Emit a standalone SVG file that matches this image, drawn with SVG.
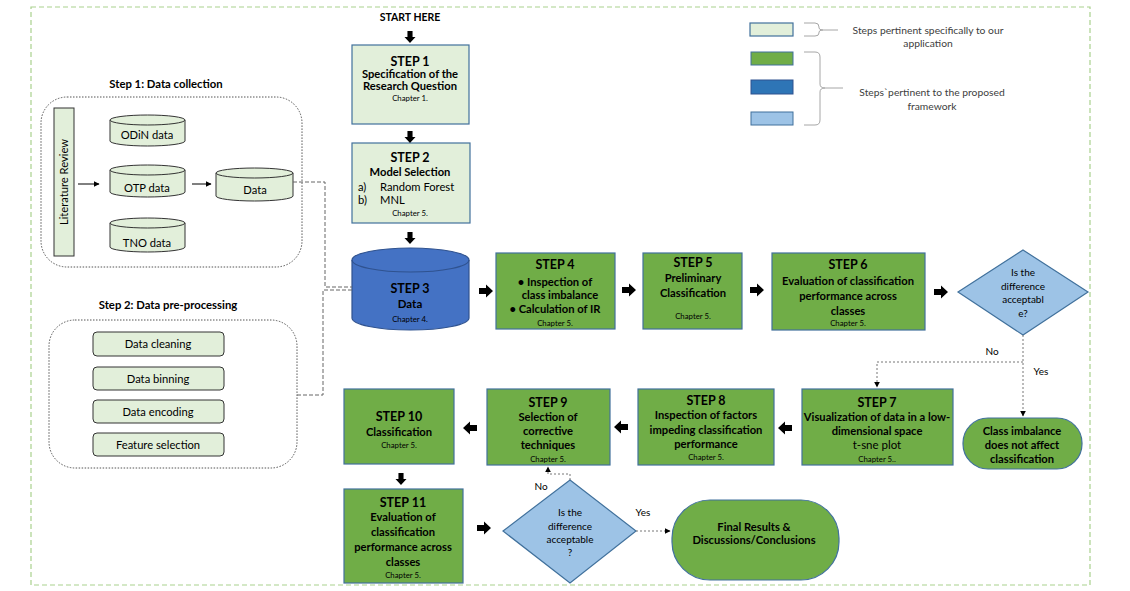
<svg xmlns="http://www.w3.org/2000/svg" width="1130" height="591" viewBox="0 0 1130 591">
<defs>
<style>
text{font-family:Lato,"Liberation Sans",sans-serif;fill:#000;text-anchor:middle}
.b{font-weight:bold}
.st{font-size:12.5px;font-weight:bold}
.bd{font-size:11.2px;font-weight:bold}
.rg{font-size:11.2px}
.ch{font-size:7.8px}
.dm{font-size:10px}
.lg{font-size:10.3px;fill:#404040}
.lt{fill:#E2EFDA;stroke:#41719C;stroke-width:1.2}
.gr{fill:#70AD47;stroke:#41719C;stroke-width:1.2}
.dia{fill:#9DC3E6;stroke:#41719C;stroke-width:1.2}
.cyl{fill:#E2EFDA;stroke:#333;stroke-width:1}
.grp{fill:none;stroke:#555;stroke-width:1;stroke-dasharray:1.5,1.5}
.dash{fill:none;stroke:#666;stroke-width:1;stroke-dasharray:4,2}
.dot{fill:none;stroke:#777;stroke-width:1;stroke-dasharray:2,2}
.thin{fill:none;stroke:#000;stroke-width:1}
.brace{fill:none;stroke:#A6A6A6;stroke-width:1}
</style>
<path id="blk" d="M-7,-3 H0 V-6.5 L7,0 L0,6.5 V3 H-7 Z" fill="#000"/>
<marker id="ah" viewBox="0 0 10 10" refX="9" refY="5" markerWidth="6" markerHeight="6" orient="auto-start-reverse">
<path d="M0,0 L10,5 L0,10 Z" fill="#000"/>
</marker>
</defs>
<rect width="1130" height="591" fill="#fff"/>
<rect x="31" y="7" width="1059" height="578" fill="none" stroke="#A9D18E" stroke-width="1.2" stroke-dasharray="5,3"/>

<!-- legend -->
<g id="legend">
<rect x="750" y="23" width="43" height="13" class="lt"/>
<rect x="751" y="52" width="42" height="13" fill="#70AD47" stroke="#41719C"/>
<rect x="751" y="80" width="42" height="14" fill="#2E75B6" stroke="#2F528F"/>
<rect x="751" y="112" width="42" height="13" fill="#9DC3E6" stroke="#41719C"/>
<path class="brace" d="M804,23 H815 Q819,23 819,27 V28 Q819,30 823,30 H838 M823,30 Q819,30 819,32 V33 Q819,36 815,36 H804"/>
<path class="brace" d="M804,52 H815 Q820,52 820,57 V84 Q820,88 825,88 H843 M825,88 Q820,88 820,92 V120 Q820,125 815,125 H804"/>
<text class="lg" x="928" y="33.5">Steps pertinent specifically to our</text>
<text class="lg" x="928" y="46.5">application</text>
<text class="lg" x="932" y="95.5">Steps`pertinent to the proposed</text>
<text class="lg" x="932" y="109.5">framework</text>
</g>

<!-- Step 1 group -->
<g id="data-collection">
<text class="b" style="font-size:11.3px" x="166" y="88">Step 1: Data collection</text>
<rect x="41" y="97" width="261" height="170" rx="26" class="grp"/>
</g>
<g id="literature-review">
<rect x="54" y="108" width="20" height="148" class="lt" style="stroke:#333;stroke-width:1"/>
<text class="rg" transform="translate(68,182) rotate(-90)">Literature Review</text>
</g>
<g id="odin">
<path class="cyl" d="M110,120 V141 A37.5,5 0 0 0 185,141 V120 A37.5,5 0 0 0 110,120 Z"/>
<path class="cyl" d="M110,120 A37.5,5 0 0 0 185,120" fill="none"/>
<text class="rg" x="147" y="138.5">ODiN data</text>
</g>
<g id="otp">
<path class="cyl" d="M110,170 V192 A37.5,5 0 0 0 185,192 V170 A37.5,5 0 0 0 110,170 Z"/>
<path class="cyl" d="M110,170 A37.5,5 0 0 0 185,170" fill="none"/>
<text class="rg" x="147" y="191.5">OTP data</text>
</g>
<g id="tno">
<path class="cyl" d="M110,223 V247 A37.5,5 0 0 0 185,247 V223 A37.5,5 0 0 0 110,223 Z"/>
<path class="cyl" d="M110,223 A37.5,5 0 0 0 185,223" fill="none"/>
<text class="rg" x="147" y="246.5">TNO data</text>
</g>
<g id="data">
<path class="cyl" d="M216,173 V196 A38.5,5 0 0 0 293,196 V173 A38.5,5 0 0 0 216,173 Z"/>
<path class="cyl" d="M216,173 A38.5,5 0 0 0 293,173" fill="none"/>
<text class="rg" x="255" y="193.5">Data</text>
</g>

<!-- Step 2 group -->
<g id="pre-processing">
<text class="b" style="font-size:11.3px" x="168" y="309">Step 2: Data pre-processing</text>
<rect x="49" y="320" width="248" height="148" rx="26" class="grp"/>
</g>
<g id="cleaning"><rect x="93" y="332" width="131" height="24" rx="4" class="cyl"/><text class="rg" x="158" y="348">Data cleaning</text></g>
<g id="binning"><rect x="93" y="367" width="131" height="23" rx="4" class="cyl"/><text class="rg" x="158" y="382.5">Data binning</text></g>
<g id="encoding"><rect x="93" y="400" width="131" height="23" rx="4" class="cyl"/><text class="rg" x="158" y="415.5">Data encoding</text></g>
<g id="feature"><rect x="93" y="433" width="131" height="23" rx="4" class="cyl"/><text class="rg" x="158" y="448.5">Feature selection</text></g>

<text class="b" style="font-size:10.5px" x="410" y="21">START HERE</text>

<!-- main steps -->
<g id="step1">
<rect x="352" y="45" width="117" height="79" class="lt"/>
<text class="st" x="410" y="66">STEP 1</text>
<text class="bd" x="410" y="78">Specification of the</text>
<text class="bd" x="410" y="90">Research Question</text>
<text class="ch" x="410" y="101">Chapter 1.</text>
</g>
<g id="step2">
<rect x="352" y="143" width="118" height="80" class="lt"/>
<text class="st" x="410" y="162">STEP 2</text>
<text class="bd" x="410" y="176">Model Selection</text>
<text class="rg" x="358" y="191" style="text-anchor:start">a)</text>
<text class="rg" x="380" y="191" style="text-anchor:start">Random Forest</text>
<text class="rg" x="358" y="204" style="text-anchor:start">b)</text>
<text class="rg" x="380" y="204" style="text-anchor:start">MNL</text>
<text class="ch" x="410" y="216">Chapter 5.</text>
</g>
<g id="step3">
<path d="M352,260 V318 A58.5,12 0 0 0 469,318 V260 A58.5,12 0 0 0 352,260 Z" fill="#4472C4" stroke="#2F528F" stroke-width="1.2"/>
<path d="M352,260 A58.5,12 0 0 0 469,260" fill="none" stroke="#2F528F" stroke-width="1.2"/>
<text class="st" x="410" y="293">STEP 3</text>
<text class="b" style="font-size:11.5px" x="410" y="308">Data</text>
<text class="ch" x="410" y="322">Chapter 4.</text>
</g>
<g id="step4">
<rect x="496" y="253" width="119" height="76" class="gr"/>
<text class="st" x="555" y="269">STEP 4</text>
<text class="bd" x="555" y="285.5">•   Inspection of</text>
<text class="bd" x="560" y="298.5">class imbalance</text>
<text class="bd" x="555" y="312.5">•   Calculation of IR</text>
<text class="ch" x="555" y="326">Chapter 5.</text>
</g>
<g id="step5">
<rect x="643" y="253" width="99" height="76" class="gr"/>
<text class="st" x="693" y="267">STEP 5</text>
<text class="bd" x="693" y="281.5">Preliminary</text>
<text class="bd" x="693" y="296.5">Classification</text>
<text class="ch" x="693" y="319">Chapter 5.</text>
</g>
<g id="step6">
<rect x="772" y="253" width="153" height="77" class="gr"/>
<text class="st" x="848" y="269">STEP 6</text>
<text class="bd" x="848" y="284.5">Evaluation of classification</text>
<text class="bd" x="848" y="299.5">performance  across</text>
<text class="bd" x="848" y="314.5">classes</text>
<text class="ch" x="848" y="326">Chapter 5.</text>
</g>
<g id="decision1">
<polygon points="1023,250 1088,292 1023,335 958,292" class="dia"/>
<text class="dm" x="1023" y="275.5">Is the</text>
<text class="dm" x="1023" y="289.5">difference</text>
<text class="dm" x="1023" y="302.5">acceptabl</text>
<text class="dm" x="1023" y="316.5">e?</text>
</g>
<g id="step7">
<rect x="802" y="389" width="151" height="76" class="gr"/>
<text class="st" x="877" y="407">STEP 7</text>
<text class="bd" x="877" y="420.5">Visualization of data in a low-</text>
<text class="bd" x="877" y="434.5">dimensional space</text>
<text class="rg" x="877" y="448.5" style="font-size:11.5px">t-sne plot</text>
<text class="ch" x="877" y="462">Chapter 5..</text>
</g>
<g id="no-effect">
<rect x="963" y="418" width="119" height="51" rx="25" class="gr"/>
<text class="bd" x="1022" y="435">Class imbalance</text>
<text class="bd" x="1022" y="449">does not affect</text>
<text class="bd" x="1022" y="463">classification</text>
</g>
<g id="step8">
<rect x="638" y="389" width="136" height="76" class="gr"/>
<text class="st" x="706" y="405">STEP 8</text>
<text class="bd" x="706" y="418.5">Inspection of factors</text>
<text class="bd" x="706" y="433.5">impeding classification</text>
<text class="bd" x="706" y="447.5">performance</text>
<text class="ch" x="706" y="460">Chapter 5.</text>
</g>
<g id="step9">
<rect x="487" y="389" width="123" height="76" class="gr"/>
<text class="st" x="548" y="407">STEP 9</text>
<text class="bd" x="548" y="420.5">Selection of</text>
<text class="bd" x="548" y="434.5">corrective</text>
<text class="bd" x="548" y="448.5">techniques</text>
<text class="ch" x="548" y="462">Chapter 5.</text>
</g>
<g id="step10">
<rect x="344" y="389" width="110" height="75" class="gr"/>
<text class="st" x="399" y="421">STEP 10</text>
<text class="bd" x="399" y="435.5">Classification</text>
<text class="ch" x="399" y="448">Chapter 5.</text>
</g>
<g id="step11">
<rect x="344" y="489" width="119" height="94" class="gr"/>
<text class="st" x="403" y="507">STEP 11</text>
<text class="bd" x="403" y="520.5">Evaluation of</text>
<text class="bd" x="403" y="535.5">classification</text>
<text class="bd" x="403" y="550.5">performance across</text>
<text class="bd" x="403" y="565.5">classes</text>
<text class="ch" x="403" y="578">Chapter 5.</text>
</g>
<g id="decision2">
<polygon points="570,480 636,531 570,583 503,531" class="dia"/>
<text class="dm" x="570" y="515.5">Is the</text>
<text class="dm" x="570" y="529.5">difference</text>
<text class="dm" x="570" y="542.5">acceptable</text>
<text class="dm" x="570" y="555.5">?</text>
</g>
<g id="final">
<rect x="672" y="500" width="167" height="80" rx="38" class="gr"/>
<text class="bd" x="754" y="531">Final Results  &amp;</text>
<text class="bd" x="754" y="544">Discussions/Conclusions</text>
</g>

<!-- connectors -->
<g id="connectors">
<line x1="78" y1="184" x2="99" y2="184" class="thin" marker-end="url(#ah)"/>
<line x1="192" y1="184" x2="211" y2="184" class="thin" marker-end="url(#ah)"/>
<path class="dash" d="M293,182 H325 V287 H352"/>
<path class="dash" d="M297,395 H323 V290 H352"/>
<use href="#blk" transform="translate(410,37) rotate(90) scale(0.85)"/>
<use href="#blk" transform="translate(410,137) rotate(90) scale(0.85)"/>
<use href="#blk" transform="translate(410,238) rotate(90) scale(0.85)"/>
<use href="#blk" transform="translate(486,291)"/>
<use href="#blk" transform="translate(629,290)"/>
<use href="#blk" transform="translate(757,290)"/>
<use href="#blk" transform="translate(941,292)"/>
<use href="#blk" transform="translate(785,428) rotate(180)"/>
<use href="#blk" transform="translate(621,427) rotate(180)"/>
<use href="#blk" transform="translate(470,428) rotate(180)"/>
<use href="#blk" transform="translate(401,479) rotate(90) scale(0.85)"/>
<use href="#blk" transform="translate(484,528)"/>
<path class="dot" d="M1023,335 V416" marker-end="url(#ah)"/>
<path class="dot" d="M1023,362 H877 V387" marker-end="url(#ah)"/>
<path class="dot" d="M570,480 V474 H548 V467" marker-end="url(#ah)"/>
<path class="dot" d="M636,531 H670" marker-end="url(#ah)"/>
<text class="dm" x="992" y="355">No</text>
<text class="dm" x="1041" y="375">Yes</text>
<text class="dm" x="541" y="490">No</text>
<text class="dm" x="643" y="516">Yes</text>
</g>
</svg>
